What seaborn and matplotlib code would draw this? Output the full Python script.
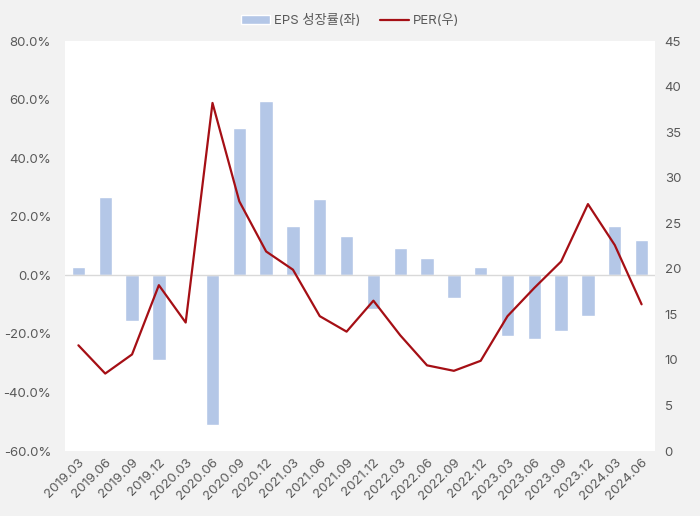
import matplotlib
matplotlib.use("Agg")
import matplotlib.pyplot as plt
import seaborn as sns
import pandas as pd
import numpy as np
from matplotlib.ticker import FuncFormatter, MultipleLocator

quarters = ["2019.03", "2019.06", "2019.09", "2019.12", "2020.03", "2020.06",
            "2020.09", "2020.12", "2021.03", "2021.06", "2021.09", "2021.12",
            "2022.03", "2022.06", "2022.09", "2022.12", "2023.03", "2023.06",
            "2023.09", "2023.12", "2024.03", "2024.06"]
eps_growth = [2.8, 26.7, -15.5, -28.9, 0.4, -51.1, 50.3, 59.5, 16.8, 26.0, 13.4,
              -11.5, 9.3, 5.9, -7.7, 2.8, -20.7, -21.7, -19.0, -13.9, 16.8, 12.1]
per = [11.6, 8.5, 10.6, 18.2, 14.1, 38.2, 27.4, 21.9, 19.9, 14.8, 13.1,
       16.5, 12.7, 9.4, 8.8, 9.9, 14.8, 17.9, 20.8, 27.1, 22.6, 16.1]

bar_label = "EPS 성장률(좌)"
line_label = "PER(우)"

sns.set_theme(style="white")
plt.rcParams['font.family'] = ['Inter', 'Noto Sans CJK KR', 'DejaVu Sans']

df = pd.DataFrame({"quarter": quarters, "eps": eps_growth, "per": per,
                   "pos": np.arange(len(quarters))})

fig = plt.figure(figsize=(7, 5.16), dpi=100)
fig.patch.set_facecolor("#f2f2f2")
ax = fig.add_axes([65/700, 1 - 451/516, 590/700, 410/516])
ax.set_facecolor("white")

sns.barplot(data=df, x="quarter", y="eps", color="#b4c7e7", width=0.5,
            saturation=1, ax=ax, label=bar_label)
ax.axhline(0, color="#d9d9d9", lw=1, zorder=1)
ax.set_ylim(-60, 80)
ax.set_xlim(-0.5, len(quarters) - 0.5)
ax.yaxis.set_major_locator(MultipleLocator(20))
ax.yaxis.set_major_formatter(FuncFormatter(lambda v, p: f"{v:.1f}%"))
ax.set_xlabel("")
ax.set_ylabel("")

ax2 = ax.twinx()
sns.lineplot(data=df, x="pos", y="per", color="#a50f15", lw=1.6, ax=ax2,
             label=line_label, legend=False)
ax2.set_ylim(0, 45)
ax2.yaxis.set_major_locator(MultipleLocator(5))
ax2.set_xlim(-0.5, len(quarters) - 0.5)
ax2.set_ylabel("")
ax2.set_xlabel("")

for a in (ax, ax2):
    for s in a.spines.values():
        s.set_visible(False)
    a.tick_params(axis="both", length=0, colors="#595959", labelsize=9.5)

ax.tick_params(axis="y", pad=10)
ax2.tick_params(axis="y", pad=7)
ax.set_xticks(range(len(quarters)))
ax.set_xticklabels(quarters, rotation=45, ha="right", rotation_mode="anchor")
ax.tick_params(axis="x", pad=4)

if ax.get_legend():
    ax.get_legend().remove()
h1, l1 = ax.get_legend_handles_labels()
h2, l2 = ax2.get_legend_handles_labels()
fig.legend(h1 + h2, l1 + l2, loc="upper center", bbox_to_anchor=(0.5, 0.995),
           ncol=2, frameon=False, fontsize=9.5, handlelength=2.2,
           columnspacing=1.5, handletextpad=0.3, labelcolor="#595959")

fig.savefig("out.png", dpi=100, facecolor=fig.get_facecolor())
